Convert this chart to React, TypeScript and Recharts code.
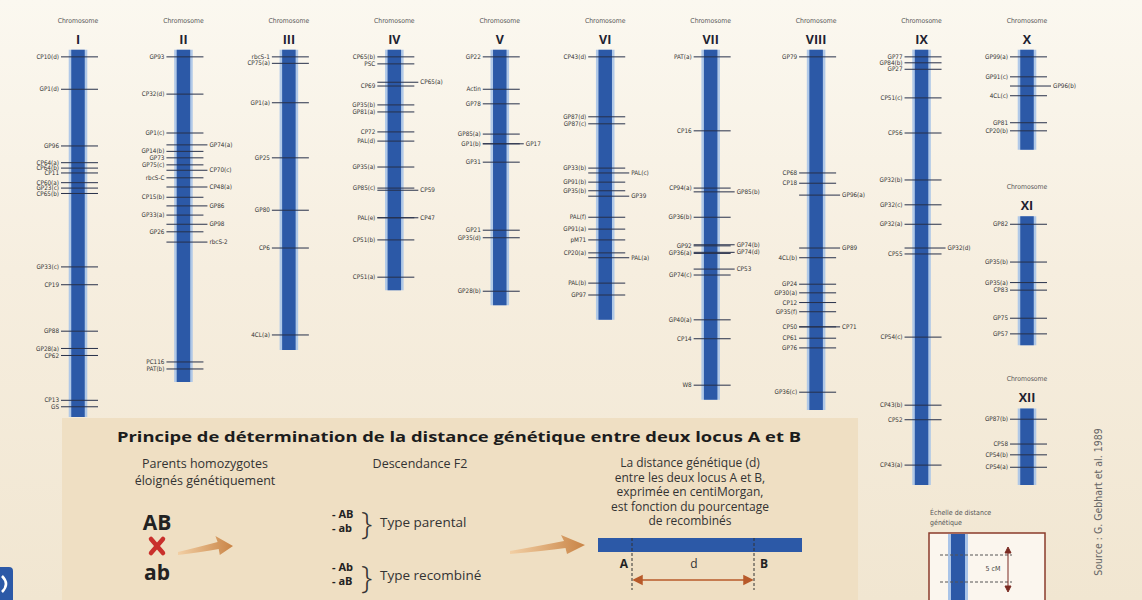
import React from 'react';
import { ScatterChart, Scatter, XAxis, YAxis, ReferenceArea } from 'recharts';

type Side = 'L' | 'R';
type Locus = [string, number, Side];

// Chromosomes: name, column on the sheet, start / end on the map (cM)
const chromosomeNames = ['I', 'II', 'III', 'IV', 'V', 'VI', 'VII', 'VIII', 'IX', 'X', 'XI', 'XII'];
const chromosomeColumns = [0, 1, 2, 3, 4, 5, 6, 7, 8, 9, 9, 9];
const chromosomeStarts = [-0.4, -0.4, -0.4, -0.4, -0.4, -0.4, -0.4, -0.4, -0.4, -0.4, 30.4, 66.0];
const chromosomeEnds = [67.6, 61.1, 55.2, 44.1, 46.9, 49.6, 64.4, 66.3, 80.2, 18.1, 54.3, 80.2];

// Loci per chromosome: marker name, map position (cM), label side
const lociI: Locus[] = [
  ['CP10(d)', 0.9, 'L'], ['GP1(d)', 6.9, 'L'], ['GP96', 17.4, 'L'], ['CP64(a)', 20.5, 'L'],
  ['CP64(b)', 21.5, 'L'], ['CP11', 22.4, 'L'], ['CP60(a)', 24.2, 'L'], ['GP23(c)', 25.2, 'L'],
  ['CP65(b)', 26.2, 'L'], ['GP33(c)', 39.8, 'L'], ['CP19', 43.1, 'L'], ['GP88', 51.7, 'L'],
  ['GP28(a)', 54.9, 'L'], ['CP62', 56.2, 'L'], ['CP13', 64.5, 'L'], ['GS', 65.7, 'L'],
];
const lociII: Locus[] = [
  ['GP93', 0.9, 'L'], ['CP32(d)', 7.8, 'L'], ['GP1(c)', 15.0, 'L'], ['GP74(a)', 17.2, 'R'],
  ['GP14(b)', 18.4, 'L'], ['GP73', 19.6, 'L'], ['GP75(c)', 20.9, 'L'], ['CP70(c)', 21.9, 'R'],
  ['rbcS-C', 23.3, 'L'], ['CP48(a)', 25.0, 'R'], ['CP15(b)', 26.9, 'L'], ['GP86', 28.5, 'R'],
  ['GP33(a)', 30.2, 'L'], ['GP98', 31.9, 'R'], ['GP26', 33.3, 'L'], ['rbcS-2', 35.2, 'R'],
  ['PC116', 57.4, 'L'], ['PAT(b)', 58.7, 'L'],
];
const lociIII: Locus[] = [
  ['rbcS-1', 0.9, 'L'], ['CP75(a)', 2.1, 'L'], ['GP1(a)', 9.4, 'L'], ['GP25', 19.6, 'L'],
  ['GP80', 29.3, 'L'], ['CP6', 36.3, 'L'], ['4CL(a)', 52.4, 'L'],
];
const lociIV: Locus[] = [
  ['CP65(b)', 0.9, 'L'], ['PSC', 2.2, 'L'], ['CP65(a)', 5.6, 'R'], ['CP69', 6.3, 'L'],
  ['GP35(b)', 9.8, 'L'], ['GP81(a)', 11.1, 'L'], ['CP72', 14.8, 'L'], ['PAL(d)', 16.5, 'L'],
  ['GP35(a)', 21.3, 'L'], ['GP85(c)', 25.2, 'L'], ['CP59', 25.6, 'R'], ['PAL(e)', 30.7, 'L'],
  ['CP47', 30.7, 'R'], ['CP51(b)', 34.8, 'L'], ['CP51(a)', 41.7, 'L'],
];
const lociV: Locus[] = [
  ['GP22', 0.9, 'L'], ['Actin', 6.9, 'L'], ['GP78', 9.6, 'L'], ['GP85(a)', 15.2, 'L'],
  ['GP1(b)', 17.0, 'L'], ['GP17', 17.0, 'R'], ['GP31', 20.4, 'L'], ['GP21', 33.0, 'L'],
  ['GP35(d)', 34.4, 'L'], ['GP28(b)', 44.3, 'L'],
];
const lociVI: Locus[] = [
  ['CP43(d)', 0.9, 'L'], ['GP87(d)', 12.0, 'L'], ['GP87(c)', 13.3, 'L'], ['GP33(b)', 21.5, 'L'],
  ['PAL(c)', 22.4, 'R'], ['GP91(b)', 24.1, 'L'], ['GP35(b)', 25.7, 'L'], ['GP39', 26.7, 'R'],
  ['PAL(f)', 30.6, 'L'], ['GP91(a)', 32.8, 'L'], ['pM71', 34.8, 'L'], ['CP20(a)', 37.2, 'L'],
  ['PAL(a)', 38.1, 'R'], ['PAL(b)', 42.8, 'L'], ['GP97', 45.0, 'L'],
];
const lociVII: Locus[] = [
  ['PAT(a)', 0.9, 'L'], ['CP16', 14.6, 'L'], ['CP94(a)', 25.2, 'L'], ['GP85(b)', 25.9, 'R'],
  ['GP36(b)', 30.6, 'L'], ['GP92', 35.9, 'L'], ['GP74(b)', 35.7, 'R'], ['GP74(d)', 37.1, 'R'],
  ['GP36(a)', 37.3, 'L'], ['CP53', 40.2, 'R'], ['GP74(c)', 41.3, 'L'], ['GP40(a)', 49.6, 'L'],
  ['CP14', 53.1, 'L'], ['W8', 61.7, 'L'],
];
const lociVIII: Locus[] = [
  ['GP79', 0.9, 'L'], ['CP68', 22.4, 'L'], ['CP18', 24.3, 'L'], ['GP96(a)', 26.5, 'R'],
  ['GP89', 36.3, 'R'], ['4CL(b)', 38.1, 'L'], ['GP24', 43.0, 'L'], ['GP30(a)', 44.6, 'L'],
  ['CP12', 46.4, 'L'], ['GP35(f)', 48.1, 'L'], ['CP50', 50.9, 'L'], ['CP71', 50.9, 'R'],
  ['CP61', 53.0, 'L'], ['GP76', 54.8, 'L'], ['GP36(c)', 63.0, 'L'],
];
const lociIX: Locus[] = [
  ['GP77', 0.9, 'L'], ['GP84(b)', 2.0, 'L'], ['GP27', 3.2, 'L'], ['CP51(c)', 8.5, 'L'],
  ['CP56', 15.0, 'L'], ['GP32(b)', 23.7, 'L'], ['GP32(c)', 28.3, 'L'], ['GP32(a)', 31.9, 'L'],
  ['GP32(d)', 36.3, 'R'], ['CP55', 37.4, 'L'], ['CP54(c)', 52.8, 'L'], ['CP43(b)', 65.4, 'L'],
  ['CP52', 68.1, 'L'], ['CP43(a)', 76.5, 'L'],
];
const lociX: Locus[] = [
  ['GP99(a)', 0.9, 'L'], ['GP91(c)', 4.6, 'L'], ['GP96(b)', 6.3, 'R'], ['4CL(c)', 8.1, 'L'],
  ['GP81', 13.1, 'L'], ['CP20(b)', 14.6, 'L'],
];
const lociXI: Locus[] = [
  ['GP82', 31.9, 'L'], ['GP35(b)', 38.9, 'L'], ['GP35(a)', 42.7, 'L'], ['CP83', 44.1, 'L'],
  ['GP75', 49.3, 'L'], ['GP57', 52.2, 'L'],
];
const lociXII: Locus[] = [
  ['GP87(b)', 68.0, 'L'], ['CP58', 72.6, 'L'], ['CP54(b)', 74.6, 'L'], ['CP54(a)', 76.9, 'L'],
];

const lociByChromosome = [lociI, lociII, lociIII, lociIV, lociV, lociVI, lociVII, lociVIII, lociIX, lociX, lociXI, lociXII];

const chromosomes = chromosomeNames.map((name, i) => ({
  name,
  x: chromosomeColumns[i],
  y: chromosomeStarts[i],
  end: chromosomeEnds[i],
}));

const loci = lociByChromosome.flatMap((list, i) =>
  list.map(([name, pos, side]) => ({ x: chromosomeColumns[i], y: pos, name, side })),
);

const LABEL_FONT = '"Liberation Sans Narrow", "DejaVu Sans Condensed", "Liberation Sans", sans-serif';
const TEXT_FONT = '"Open Sans", "Noto Sans", sans-serif';
const BLUE = '#2c59a7';
const HALO = '#a9c4e8';
const BAR_HALF = 0.064;
const HALO_HALF = 0.088;

const LocusMark = (props: any) => {
  const { cx, cy, payload } = props;
  if (cx == null || cy == null) return null;
  const right = payload.side === 'R';
  return (
    <g>
      <line x1={cx - 17} x2={cx + (right ? 24 : 20)} y1={cy} y2={cy} stroke="#27304a" strokeWidth={1} />
      <text
        x={right ? cx + 26 : cx - 19}
        y={cy}
        dy="0.33em"
        textAnchor={right ? 'start' : 'end'}
        fontSize={6.3}
        fontFamily={LABEL_FONT}
        fill="#333"
      >
        {payload.name}
      </text>
    </g>
  );
};

const ChromosomeTitle = (props: any) => {
  const { cx, cy, payload } = props;
  if (cx == null || cy == null) return null;
  return (
    <g>
      <text x={cx} y={cy - 27} textAnchor="middle" fontSize={6.8} fontFamily={LABEL_FONT} fill="#555">
        Chromosome
      </text>
      <text x={cx} y={cy - 6} textAnchor="middle" fontSize={12.5} fontWeight={700} fontFamily={TEXT_FONT} fill="#1e2230">
        {payload.name}
      </text>
    </g>
  );
};

const Arrow = ({ x, y, len }: { x: number; y: number; len: number }) => (
  <path
    d={`M${x},${y + 5} Q${x + len * 0.45},${y - 1} ${x + len * 0.72},${y - 5} L${x + len * 0.68},${y - 11} L${x + len},${y - 1} L${x + len * 0.76},${y + 8} L${x + len * 0.74},${y + 2} Q${x + len * 0.45},${y + 5} ${x},${y + 8} Z`}
    fill="url(#arrowFill)"
  />
);

const Panel = () => (
  <svg width={1142} height={600} style={{ position: 'absolute', left: 0, top: 0 }}>
    <defs>
      <linearGradient id="arrowFill" x1="0" x2="1" y1="0" y2="0">
        <stop offset="0" stopColor="#f2cfa4" />
        <stop offset="1" stopColor="#c98446" />
      </linearGradient>
    </defs>
    <rect x={62} y={418} width={796} height={190} fill="#efdfc3" />
    <text
      x={117}
      y={442}
      textLength={684}
      lengthAdjust="spacingAndGlyphs"
      fontSize={15}
      fontWeight={700}
      fontFamily={TEXT_FONT}
      fill="#1c1c1c"
    >
      Principe de détermination de la distance génétique entre deux locus A et B
    </text>
    <g fontFamily={TEXT_FONT} fontSize={12.5} fill="#333">
      <text x={205} y={468} textAnchor="middle">Parents homozygotes</text>
      <text x={205} y={485} textAnchor="middle">éloignés génétiquement</text>
      <text x={420} y={468} textAnchor="middle">Descendance F2</text>
    </g>
    <g fontFamily={TEXT_FONT} fontSize={12} fill="#333">
      <text x={690} y={467} textAnchor="middle">La distance génétique (d)</text>
      <text x={690} y={481.5} textAnchor="middle">entre les deux locus A et B,</text>
      <text x={690} y={496} textAnchor="middle">exprimée en centiMorgan,</text>
      <text x={690} y={510.5} textAnchor="middle">est fonction du pourcentage</text>
      <text x={690} y={525} textAnchor="middle">de recombinés</text>
    </g>
    <g fontFamily={TEXT_FONT} fontSize={13.5} fill="#333">
      <text x={380} y={527}>Type parental</text>
      <text x={380} y={580}>Type recombiné</text>
    </g>
    <g fontFamily={TEXT_FONT} fontWeight={700} fill="#222">
      <text x={157} y={530} textAnchor="middle" fontSize={21}>AB</text>
      <text x={157} y={580} textAnchor="middle" fontSize={21}>ab</text>
      <text x={332} y={518} fontSize={11}>- AB</text>
      <text x={332} y={532} fontSize={11}>- ab</text>
      <text x={332} y={571} fontSize={11}>- Ab</text>
      <text x={332} y={585} fontSize={11}>- aB</text>
    </g>
    <g fontFamily={TEXT_FONT} fill="#333" fontSize={32} fontWeight={300}>
      <text x={361} y={534}>{'}'}</text>
      <text x={361} y={588}>{'}'}</text>
    </g>
    <g stroke="#c9302c" strokeWidth={4.5} strokeLinecap="round">
      <line x1={151} y1={539} x2={163} y2={553} />
      <line x1={163} y1={539} x2={151} y2={553} />
    </g>
    <Arrow x={178} y={547} len={55} />
    <Arrow x={510} y={546} len={75} />
    <rect x={598} y={538} width={204} height={14} fill={BLUE} />
    <g stroke="#333" strokeWidth={1} strokeDasharray="3 2">
      <line x1={632} y1={538} x2={632} y2={590} />
      <line x1={754} y1={538} x2={754} y2={590} />
    </g>
    <g fontFamily={TEXT_FONT} fontWeight={700} fontSize={12} fill="#222">
      <text x={628} y={568} textAnchor="end">A</text>
      <text x={760} y={568}>B</text>
    </g>
    <text x={694} y={568} textAnchor="middle" fontFamily={TEXT_FONT} fontSize={12} fill="#333">d</text>
    <g stroke="#b85a2a" strokeWidth={1.5} fill="#b85a2a">
      <line x1={636} y1={580} x2={750} y2={580} />
      <path d="M634,580 L642,576 L642,584 Z" />
      <path d="M752,580 L744,576 L744,584 Z" />
    </g>

    {/* distance scale */}
    <text x={930} y={515} fontSize={7} fontFamily={LABEL_FONT} fill="#555">Échelle de distance</text>
    <text x={930} y={525} fontSize={7} fontFamily={LABEL_FONT} fill="#555">génétique</text>
    <rect x={929} y={533} width={116} height={80} fill="#fbf6ee" stroke="#8a3b2b" strokeWidth={1.5} />
    <rect x={948} y={534} width={20} height={70} fill={HALO} />
    <rect x={951} y={534} width={14} height={70} fill={BLUE} />
    <g stroke="#555" strokeWidth={1} strokeDasharray="3 2">
      <line x1={940} y1={555} x2={1012} y2={555} />
      <line x1={940} y1={582} x2={1012} y2={582} />
    </g>
    <g stroke="#7a2b22" strokeWidth={1} fill="#7a2b22">
      <line x1={1008} y1={549} x2={1008} y2={589} />
      <path d="M1008,547 L1005,553 L1011,553 Z" />
      <path d="M1008,592 L1005,586 L1011,586 Z" />
    </g>
    <text x={993} y={571} textAnchor="middle" fontSize={7} fontFamily={LABEL_FONT} fill="#444">5 cM</text>

    <text
      transform="translate(1102,502) rotate(-90)"
      textAnchor="middle"
      fontSize={10.5}
      fontFamily={LABEL_FONT}
      fill="#666"
    >
      Source : G. Gebhart et al. 1989
    </text>

    <rect x={-4} y={567} width={17} height={36} rx={4} fill={BLUE} />
    <path d="M2,576 Q10,584 2,592" stroke="#fff" strokeWidth={2.5} fill="none" />
  </svg>
);

export default function App() {
  return (
    <div
      style={{
        position: 'absolute',
        left: 0,
        top: 0,
        width: 1142,
        height: 600,
        overflow: 'hidden',
        background: 'linear-gradient(180deg, #fbf8f0 0%, #f6eedf 45%, #f1e6d1 100%)',
      }}
    >
      <Panel />
      <div style={{ position: 'absolute', left: 0, top: 0 }}>
        <ScatterChart width={1142} height={600} margin={{ top: 41.2, right: 115, bottom: 18.8, left: 78 }}>
          <XAxis type="number" dataKey="x" domain={[0, 9]} hide />
          <YAxis type="number" dataKey="y" domain={[-2, 98]} reversed hide />
          {chromosomes.map((c) => (
            <ReferenceArea
              key={`halo-${c.name}`}
              x1={c.x - HALO_HALF}
              x2={c.x + HALO_HALF}
              y1={c.y}
              y2={c.end}
              fill={HALO}
              fillOpacity={0.9}
              stroke="none"
              ifOverflow="visible"
            />
          ))}
          {chromosomes.map((c) => (
            <ReferenceArea
              key={`bar-${c.name}`}
              x1={c.x - BAR_HALF}
              x2={c.x + BAR_HALF}
              y1={c.y}
              y2={c.end}
              fill={BLUE}
              fillOpacity={1}
              stroke="none"
              ifOverflow="visible"
            />
          ))}
          <Scatter data={chromosomes} shape={ChromosomeTitle} isAnimationActive={false} />
          <Scatter data={loci} shape={LocusMark} isAnimationActive={false} />
        </ScatterChart>
      </div>
    </div>
  );
}
